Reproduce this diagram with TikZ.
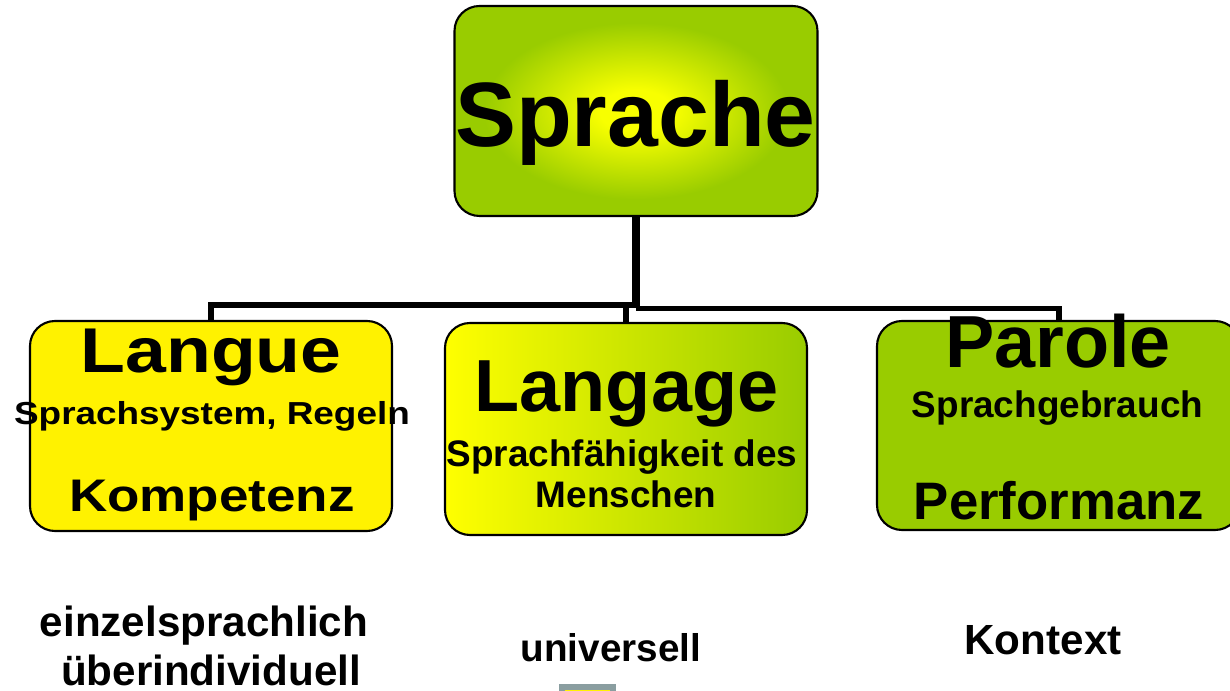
\documentclass[tikz,border=0pt]{standalone}
\usepackage{fontspec}
\setmainfont{Liberation Sans}
\newfontfamily\widesans[FakeStretch=1.16]{Liberation Sans}
\definecolor{sgreen}{RGB}{153,204,0}
\definecolor{sunny}{RGB}{248,255,0}
\definecolor{markgray}{RGB}{138,158,160}
\pgfdeclareradialshading{spraglow}{\pgfpoint{0bp}{0bp}}{color(0bp)=(sunny); color(5bp)=(sunny); color(21bp)=(sgreen); color(25bp)=(sgreen); color(50bp)=(sgreen)}
\newcommand\fsz[1]{\fontsize{#1}{#1}\selectfont\bfseries}
\tikzset{
  box/.style={draw, line width=0.6pt, rounded corners=0.25cm, inner sep=0pt, minimum width=3.62cm, minimum height=2.10cm},
  tag/.style={anchor=base, inner sep=0pt},
  conn/.style={line width=1.7pt}
}

\begin{document}
\begin{tikzpicture}
			\useasboundingbox (0,0) rectangle (12.30,-6.91);
			\clip (0,0) rectangle (12.30,-6.91);
			\node[box,shading=spraglow,minimum width=3.63cm] (sprache) at (6.36,-1.11) {};
			\node[box,fill=yellow] (langue) at (2.11,-4.26) {};
			\node[box,left color=yellow,right color=sgreen,minimum height=2.12cm] (langage) at (6.26,-4.29) {};
			\node[box,fill=sgreen,minimum width=3.63cm,minimum height=2.09cm] (parole) at (10.585,-4.255) {};
			\coordinate (hub) at (6.36,-3.05);
			\draw[conn,line width=2.4pt] (sprache.south) -- ([yshift=-0.6pt]hub);
			\draw[conn] (hub) -| (langue.north);
			\draw[conn] ([yshift=-1pt]hub) -| (parole.north);
			\draw[conn] (hub -| langage.north) -- (langage.north);
			\node[tag,font=\fsz{26}] (t-sprache) at (6.355,-1.47) {Sprache};
			\node[tag,font=\widesans\fsz{18}] (t-langue) at (2.11,-3.73) {Langue};
			\node[tag,font=\widesans\fsz{9.05}] (t-system) at (2.12,-4.25) {Sprachsystem, Regeln};
			\node[tag,font=\widesans\fsz{13}] (t-kompetenz) at (2.12,-5.12) {Kompetenz};
			\node[tag,font=\fsz{21}] (t-langage) at (6.265,-4.12) {Langage};
			\node[tag,font=\fsz{10.5}] (t-faehig) at (6.22,-4.67) {Sprachfähigkeit des};
			\node[tag,font=\fsz{10.5}] (t-menschen) at (6.26,-5.08) {Menschen};
			\node[tag,font=\fsz{21}] (t-parole) at (10.58,-3.68) {Parole};
			\node[tag,font=\fsz{10.5}] (t-gebrauch) at (10.575,-4.18) {Sprachgebrauch};
			\node[tag,font=\fsz{15}] (t-performanz) at (10.59,-5.20) {Performanz};
			\node[tag,font=\fsz{12}] (t-einzel) at (2.04,-6.37) {einzelsprachlich};
			\node[tag,font=\fsz{12}] (t-ueber) at (2.11,-6.86) {überindividuell};
			\node[tag,font=\fsz{11}] (t-universell) at (6.11,-6.62) {universell};
			\node[tag,font=\fsz{12}] (t-kontext) at (10.43,-6.55) {Kontext};
			\node[draw=markgray,line width=1.6pt,fill=yellow,inner sep=0pt,minimum width=0.51cm,minimum height=0.16cm] (mark) at (5.875,-6.95) {};
		\end{tikzpicture}
\end{document}
